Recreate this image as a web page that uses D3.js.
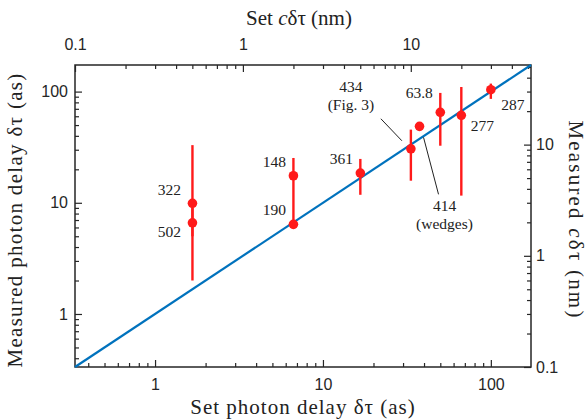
<!DOCTYPE html>
<html>
<head>
<meta charset="utf-8">
<script src="https://cdn.jsdelivr.net/npm/d3@7"></script>
<style>
  body { margin: 0; background: #fff; }
  .tick text { font-family: "Liberation Sans", Arial, sans-serif; font-size: 16px; fill: #262626; }
  .domain { display: none; }
  .tick line { stroke: #262626; stroke-width: 1.2; }
  .lbl { font-family: "Liberation Serif", "DejaVu Serif", serif; font-size: 15.5px; fill: #222; }
  .title { font-family: "Liberation Serif", "DejaVu Serif", serif; font-size: 21px; fill: #222; }
</style>
</head>
<body>
<div id="chart"></div>
<script>
// speed of light in nm per attosecond
var C = 0.29979;

// set photon delay (as), measured delay (as), error bar limits (as)
var setDelay   = [1.67, 1.67, 6.67, 6.67, 16.7, 33.4, 37.6, 50, 66.7, 100];
var measured   = [9.9, 6.6, 17.5, 6.4, 18.5, 30.6, 48.7, 65.1, 61.2, 104];
var errLow     = [5, 2.0, 6.4, null, 11.8, 15.8, null, 32.6, 11.6, 86];
var errHigh    = [33, 9, 25.3, null, 24.8, 45.5, null, 97.3, 110, 118];
var pointLabels = [["322"], ["502"], ["148"], ["190"], ["361"], ["434", "(Fig. 3)"],
                   ["414", "(wedges)"], ["63.8"], ["277"], ["287"]];

var asTicks = [1, 10, 100];
var nmTicks = [0.1, 1, 10];

var margin = {top: 65, right: 57, bottom: 52, left: 75},
    width = 588 - margin.left - margin.right,
    height = 419 - margin.top - margin.bottom;

var svg = d3.select("#chart").append("svg")
    .attr("width", 588)
    .attr("height", 419)
    .append("g")
    .attr("transform", "translate(" + margin.left + "," + margin.top + ")");

var asMin = 0.1 / C, asMax = 52 / C;

var x = d3.scaleLog().domain([asMin, asMax]).range([0, width]);
var y = d3.scaleLog().domain([asMin, asMax]).range([height, 0]);
var xNm = d3.scaleLog().domain([0.1, 52]).range([0, width]);
var yNm = d3.scaleLog().domain([0.1, 52]).range([height, 0]);

function minors(scale) {
    var d = scale.domain(), out = [];
    for (var e = -2; e <= 3; e++) {
        for (var m = 2; m <= 9; m++) {
            var v = m * Math.pow(10, e);
            if (v > d[0] && v < d[1]) out.push(v);
        }
    }
    return out;
}

// minor ticks (inward)
svg.append("g").attr("transform", "translate(0," + height + ")")
    .call(d3.axisBottom(x).tickValues(minors(x)).tickSize(-4).tickFormat(""));
svg.append("g")
    .call(d3.axisLeft(y).tickValues(minors(y)).tickSize(-4).tickFormat(""));
svg.append("g")
    .call(d3.axisTop(xNm).tickValues(minors(xNm)).tickSize(-4).tickFormat(""));
svg.append("g").attr("transform", "translate(" + width + ",0)")
    .call(d3.axisRight(yNm).tickValues(minors(yNm)).tickSize(-4).tickFormat(""));

// major ticks with labels
var fmt = d3.format("~g");
svg.append("g").attr("transform", "translate(0," + height + ")")
    .call(d3.axisBottom(x).tickValues(asTicks).tickSize(-7).tickPadding(12).tickFormat(fmt));
svg.append("g")
    .call(d3.axisLeft(y).tickValues(asTicks).tickSize(-7).tickPadding(7).tickFormat(fmt));
svg.append("g")
    .call(d3.axisTop(xNm).tickValues(nmTicks).tickSize(-7).tickPadding(15).tickFormat(fmt));
svg.append("g").attr("transform", "translate(" + width + ",0)")
    .call(d3.axisRight(yNm).tickValues(nmTicks).tickSize(-7).tickPadding(5).tickFormat(fmt));

// frame
svg.append("rect")
    .attr("width", width).attr("height", height)
    .attr("fill", "none").attr("stroke", "#262626").attr("stroke-width", 1.5);

// identity line
svg.append("line")
    .attr("x1", x(asMin)).attr("y1", y(asMin))
    .attr("x2", x(asMax)).attr("y2", y(asMax))
    .attr("stroke", "#0072BD").attr("stroke-width", 2.2);

var idx = d3.range(setDelay.length);

// error bars
svg.selectAll(".err")
    .data(idx.filter(i => errLow[i] != null))
    .enter().append("line")
    .attr("class", "err")
    .attr("x1", i => x(setDelay[i])).attr("x2", i => x(setDelay[i]))
    .attr("y1", i => y(errLow[i])).attr("y2", i => y(errHigh[i]))
    .attr("stroke", "#ff1a1a").attr("stroke-width", 2.4);

// points
svg.selectAll(".pt")
    .data(idx)
    .enter().append("circle")
    .attr("class", "pt")
    .attr("cx", i => x(setDelay[i])).attr("cy", i => y(measured[i]))
    .attr("r", 4.8)
    .attr("fill", "#ff1a1a");

// label offsets from the point, in pixels
var labelOffset = [[-23, -13], [-23, 9], [-19, -14], [-19, -14], [-19, -14],
                   [-60, -62], [25, 80], [-21, -19], [21, 11], [22, 15]];

idx.forEach(function(i) {
    var px = x(setDelay[i]), py = y(measured[i]);
    var t = svg.append("text").attr("class", "lbl").attr("text-anchor", "middle");
    pointLabels[i].forEach(function(s, k) {
        t.append("tspan")
            .attr("x", px + labelOffset[i][0])
            .attr("y", py + labelOffset[i][1] + 5 + k * 18)
            .text(s);
    });
});

// leader lines for 434 and 414
var leaders = [[5, [-30, -30], [-9, -8]], [6, [4, 11], [19, 68]]];
leaders.forEach(function(l) {
    var px = x(setDelay[l[0]]), py = y(measured[l[0]]);
    svg.append("line")
        .attr("x1", px + l[1][0]).attr("y1", py + l[1][1])
        .attr("x2", px + l[2][0]).attr("y2", py + l[2][1])
        .attr("stroke", "#222").attr("stroke-width", 1);
});

// axis titles
svg.append("text").attr("class", "title").attr("text-anchor", "middle")
    .attr("letter-spacing", 1)
    .attr("x", width / 2).attr("y", height + 47)
    .text("Set photon delay δτ (as)");

var tt = svg.append("text").attr("class", "title").attr("text-anchor", "middle")
    .attr("x", width / 2 - 4).attr("y", -40);
tt.append("tspan").text("Set ");
tt.append("tspan").attr("font-style", "italic").text("c");
tt.append("tspan").text("δτ (nm)");

svg.append("text").attr("class", "title").attr("text-anchor", "middle")
    .attr("letter-spacing", 1.3)
    .attr("transform", "translate(" + (-53) + "," + (height / 2 + 4) + ") rotate(-90)")
    .text("Measured photon delay δτ (as)");

var rt = svg.append("text").attr("class", "title").attr("text-anchor", "middle")
    .attr("letter-spacing", 2.2)
    .attr("transform", "translate(" + (width + 38) + "," + (height / 2 + 4) + ") rotate(90)");
rt.append("tspan").text("Measured ");
rt.append("tspan").attr("font-style", "italic").text("c");
rt.append("tspan").text("δτ (nm)");
</script>
</body>
</html>
